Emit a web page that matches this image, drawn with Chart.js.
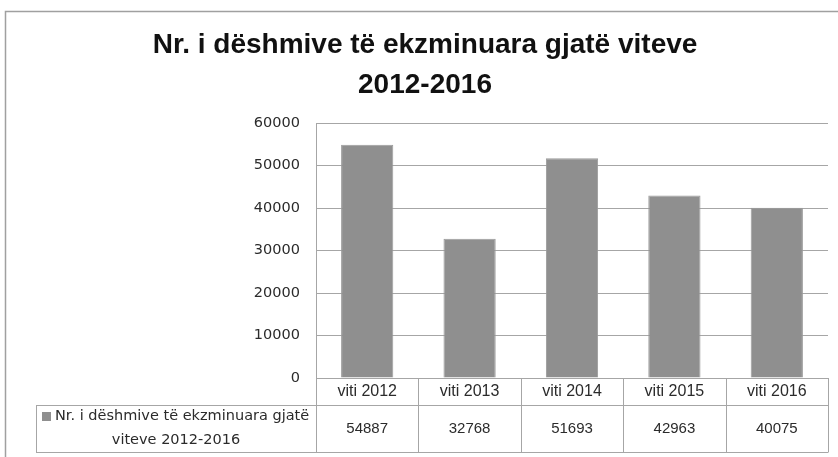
<!DOCTYPE html>
<html>
<head>
<meta charset="utf-8">
<script src="https://cdn.jsdelivr.net/npm/chart.js@4.4.1/dist/chart.umd.min.js"></script>
<style>
  html, body { margin: 0; padding: 0; background: #fff; }
  #wrap { width: 838px; height: 457px; }
</style>
</head>
<body>
<div id="wrap"><canvas id="chart" width="838" height="457"></canvas></div>
<script>
// data
const categories = ['viti 2012', 'viti 2013', 'viti 2014', 'viti 2015', 'viti 2016'];
const seriesName = 'Nr. i dëshmive të ekzminuara gjatë viteve 2012-2016';
const seriesLines = ['Nr. i dëshmive të ekzminuara gjatë', 'viteve 2012-2016'];
const values = [54887, 32768, 51693, 42963, 40075];
const titleLines = ['Nr. i dëshmive të ekzminuara gjatë viteve', '2012-2016'];
const yTicks = [0, 10000, 20000, 30000, 40000, 50000, 60000];

const barColor = '#8f8f8f';
const lineColor = '#a6a6a6';

// frame + data table under the plot
const tablePlugin = {
    id: 'dataTable',
    afterDraw(chart) {
        const ctx = chart.ctx;
        const x = chart.scales.x;
        const area = chart.chartArea;
        const rowTop = area.bottom;
        const rowMid = rowTop + 27;
        const rowBot = rowTop + 74;
        const legendLeft = 36;
        const step = (area.right - area.left) / categories.length;

        ctx.save();
        // outer frame
        ctx.strokeStyle = '#a0a0a0';
        ctx.lineWidth = 1.5;
        ctx.beginPath();
        ctx.moveTo(5.5, 457);
        ctx.lineTo(5.5, 11.5);
        ctx.lineTo(838, 11.5);
        ctx.stroke();

        ctx.strokeStyle = lineColor;
        ctx.lineWidth = 1;
        ctx.beginPath();
        ctx.moveTo(legendLeft, Math.round(rowMid) + 0.5);
        ctx.lineTo(area.right, Math.round(rowMid) + 0.5);
        ctx.moveTo(legendLeft, Math.round(rowBot) + 0.5);
        ctx.lineTo(area.right, Math.round(rowBot) + 0.5);
        ctx.moveTo(legendLeft + 0.5, Math.round(rowMid));
        ctx.lineTo(legendLeft + 0.5, Math.round(rowBot));
        for (let i = 0; i <= categories.length; i++) {
            const px = Math.round(area.left + i * step) + 0.5;
            ctx.moveTo(px, rowTop);
            ctx.lineTo(px, Math.round(rowBot) + 0.5);
        }
        ctx.stroke();

        ctx.fillStyle = '#2b2b2b';
        ctx.textAlign = 'center';
        ctx.textBaseline = 'middle';
        categories.forEach((c, i) => {
            const cx = x.getPixelForValue(i);
            ctx.font = '16px "Liberation Sans", sans-serif';
            ctx.fillText(c, cx, rowTop + 14);
            ctx.font = '15px "Liberation Sans", sans-serif';
            ctx.fillText(String(values[i]), cx, rowMid + 24);
        });

        // legend cell
        ctx.font = '14.5px "DejaVu Sans", sans-serif';
        ctx.fillStyle = barColor;
        ctx.fillRect(42, rowMid + 7, 9, 9);
        ctx.fillStyle = '#2b2b2b';
        ctx.textAlign = 'left';
        ctx.fillText(seriesLines[0], 55, rowMid + 11);
        ctx.textAlign = 'center';
        ctx.fillText(seriesLines[1], (legendLeft + area.left) / 2, rowMid + 35);
        ctx.restore();
    }
};

new Chart(document.getElementById('chart'), {
    type: 'bar',
    data: {
        labels: categories,
        datasets: [{
            label: seriesName,
            data: values,
            backgroundColor: barColor,
            borderColor: '#9a9a9a',
            borderWidth: 1,
            barPercentage: 0.51,
            categoryPercentage: 1
        }]
    },
    options: {
        responsive: false,
        animation: false,
        layout: { padding: { top: 0, right: 10, bottom: 79, left: 22 } },
        plugins: {
            legend: { display: false },
            tooltip: { enabled: false },
            title: {
                display: true,
                text: titleLines,
                color: '#111',
                font: { family: '"Liberation Sans", sans-serif', size: 28, weight: 'bold', lineHeight: 40 / 28 },
                padding: { top: 25, bottom: 18 }
            }
        },
        scales: {
            x: { display: false },
            y: {
                min: 0,
                max: 60000,
                afterBuildTicks: (s) => { s.ticks = yTicks.map(v => ({ value: v })); },
                afterFit: (s) => { s.width = 294; },
                border: { display: true, color: lineColor },
                grid: { color: lineColor, drawTicks: false },
                ticks: {
                    padding: 16,
                    color: '#2b2b2b',
                    callback: (v) => String(v),
                    font: { family: '"DejaVu Sans", sans-serif', size: 14.5 }
                }
            }
        }
    },
    plugins: [tablePlugin]
});
</script>
</body>
</html>
